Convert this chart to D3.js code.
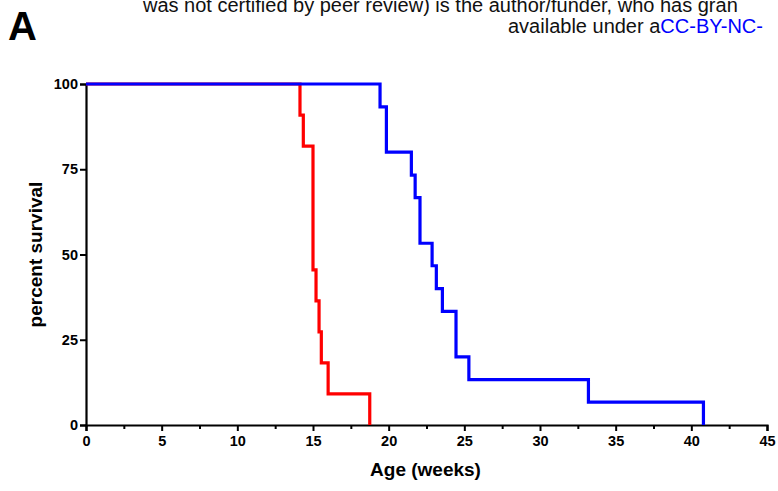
<!DOCTYPE html>
<head>
  <meta charset="utf-8">
  <title>survival</title>
  <style>
    body { margin: 0; background: #fff; overflow: hidden; }
    text { font-family: "Liberation Sans", Arial, sans-serif; }
  </style>
</head>
<script src="https://d3js.org/d3.v7.min.js"></script>
<div id="chart"></div>
<script>
  // Kaplan-Meier steps: time of each drop (weeks) and survival after it (%)
  const redTimes = [0, 14.14, 14.36, 15.0, 15.2, 15.4, 15.55, 16.0, 18.75];
  const redSurv  = [100, 90.9, 81.8, 45.5, 36.4, 27.3, 18.2, 9.1, 0];
  const blueTimes = [0, 19.43, 19.85, 21.5, 21.75, 22.07, 22.87, 23.15, 23.55, 24.45, 25.3, 33.2, 40.8];
  const blueSurv  = [100, 93.3, 80, 73.3, 66.7, 53.3, 46.7, 40, 33.3, 20, 13.3, 6.7, 0];
  const xTicks = [0, 5, 10, 15, 20, 25, 30, 35, 40, 45];
  const yTicks = [0, 25, 50, 75, 100];

  const W = 778, H = 491;
  const margin = {top: 84, right: 11, bottom: 66, left: 86};
  const width = W - margin.left - margin.right,
        height = H - margin.top - margin.bottom;

  const root = d3.select("#chart").append("svg")
    .attr("width", W).attr("height", H);

  // header text from the preprint page (cropped in the figure)
  root.append("text").attr("x", 143).attr("y", 12)
    .attr("font-size", 20).attr("fill", "#111")
    .text("was not certified by peer review) is the author/funder, who has gran");
  const t2 = root.append("text").attr("x", 508).attr("y", 33)
    .attr("font-size", 20).attr("fill", "#111");
  t2.append("tspan").text("available under a");
  t2.append("tspan").attr("fill", "#0000ff").text("CC-BY-NC-");

  root.append("text").attr("x", 8).attr("y", 40)
    .attr("font-size", 40).attr("font-weight", "bold").text("A");

  const svg = root.append("g")
    .attr("transform", `translate(${margin.left},${margin.top})`);

  const x = d3.scaleLinear().domain([0, 45]).range([0, width]);
  const y = d3.scaleLinear().domain([0, 100]).range([height, 0]);

  // axes
  svg.append("g").attr("transform", `translate(0,${height})`)
    .call(d3.axisBottom(x).tickValues(xTicks).tickSize(6).tickPadding(5).tickFormat(d3.format("d")));
  svg.append("g").attr("transform", `translate(0,${height})`)
    .call(d3.axisBottom(x).tickValues(d3.range(2.5, 45, 5)).tickSize(4).tickFormat(""))
    .call(g => g.select(".domain").remove());
  svg.append("g")
    .call(d3.axisLeft(y).tickValues(yTicks).tickSize(6).tickPadding(2));

  svg.selectAll(".domain").attr("stroke", "#000").attr("stroke-width", 2.2);
  svg.selectAll(".tick line").attr("stroke", "#000").attr("stroke-width", 2);
  svg.selectAll(".tick text").attr("font-size", 14.5).attr("font-weight", "bold")
    .attr("font-family", "Liberation Sans, Arial, sans-serif").attr("fill", "#000");

  // survival curves
  const line = d3.line().x(d => x(d[0])).y(d => y(d[1])).curve(d3.curveStepAfter);
  const curves = [
    {times: redTimes, surv: redSurv, color: "#ff0000"},
    {times: blueTimes, surv: blueSurv, color: "#0000ff"}
  ];
  svg.selectAll(".curve").data(curves).join("path")
    .attr("fill", "none")
    .attr("stroke", d => d.color)
    .attr("stroke-width", 3.2)
    .attr("d", d => line(d.times.map((t, i) => [t, d.surv[i]])));

  // axis titles
  root.append("text").attr("x", margin.left + x(22.5) - 1).attr("y", 476)
    .attr("text-anchor", "middle").attr("font-size", 19).attr("font-weight", "bold")
    .text("Age (weeks)");
  root.append("text")
    .attr("transform", `translate(42,${margin.top + y(50)}) rotate(-90)`)
    .attr("text-anchor", "middle").attr("font-size", 19).attr("font-weight", "bold")
    .text("percent survival");
</script>
